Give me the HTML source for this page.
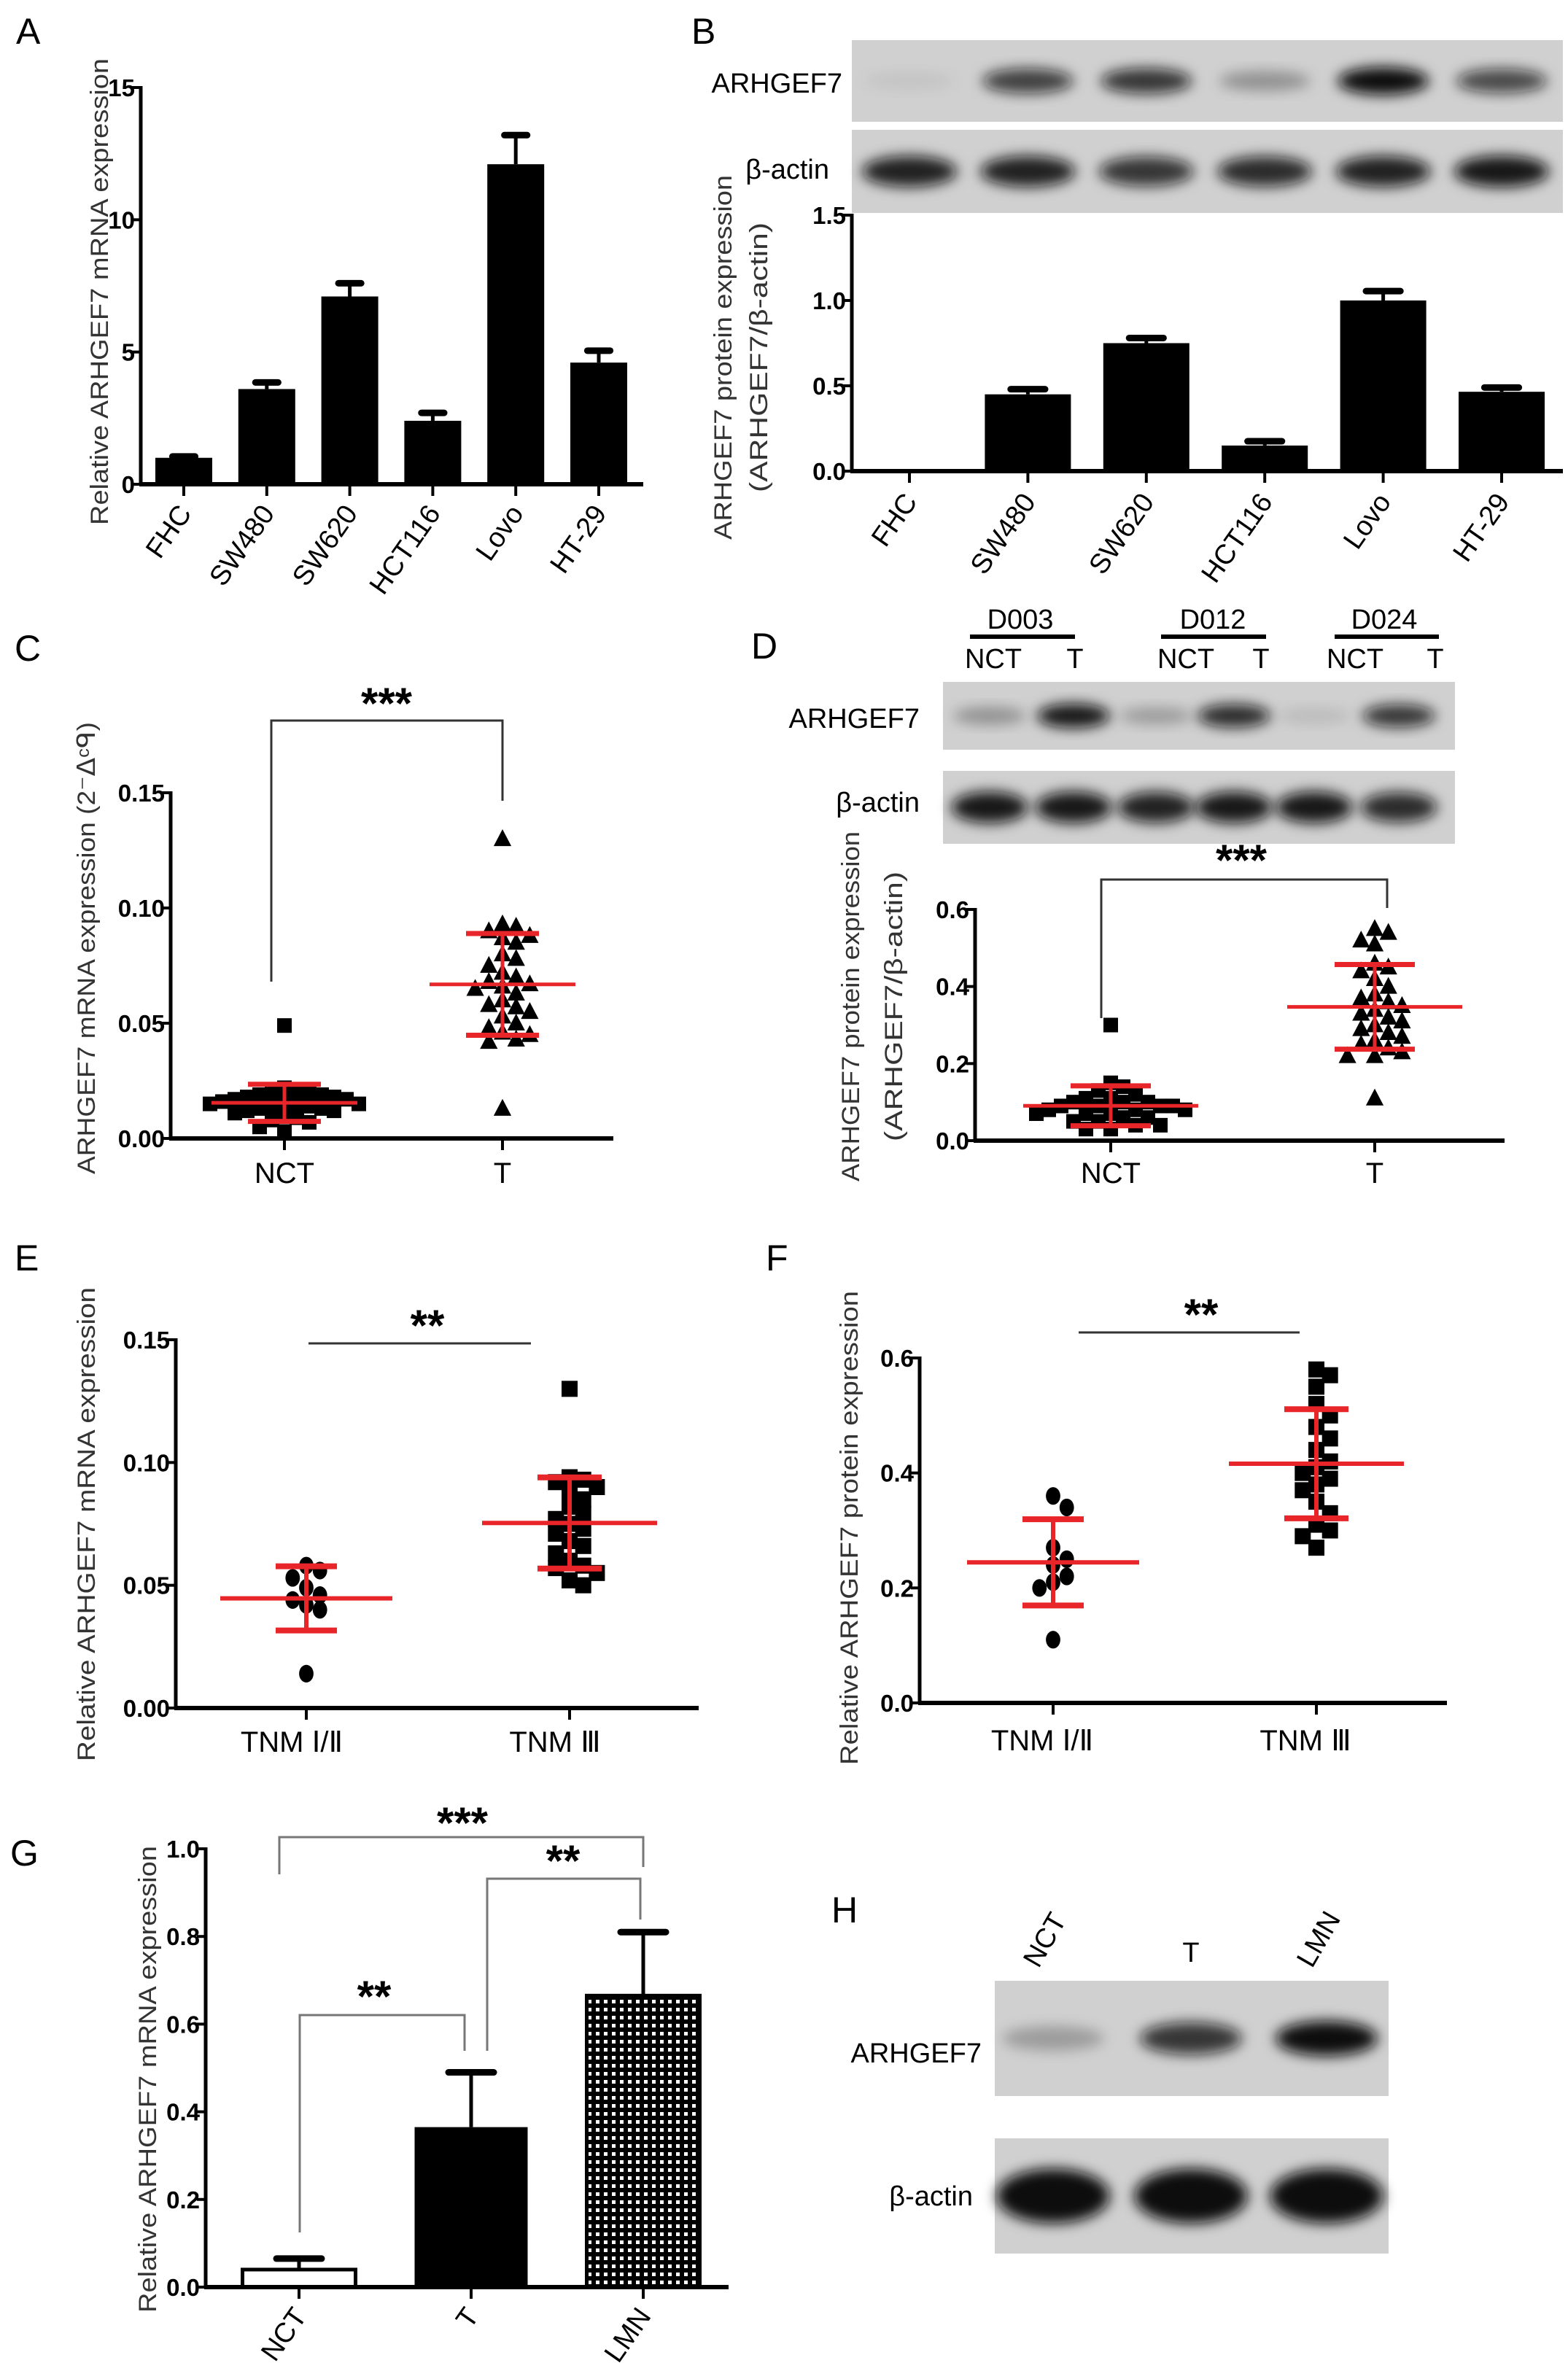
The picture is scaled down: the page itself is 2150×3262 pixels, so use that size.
<!DOCTYPE html>
<html><head><meta charset="utf-8"><style>
html,body{margin:0;padding:0;background:#fff}
svg{display:block}
text{font-family:"Liberation Sans Narrow","Liberation Sans",sans-serif}
.ttl{font-family:"Liberation Sans",sans-serif;fill:#333}
.tick{font-weight:bold;font-size:33px}
.cat{font-size:40px}
.letter{font-family:"Liberation Sans",sans-serif;font-size:50px}
</style></head><body>
<svg id="fig" xmlns="http://www.w3.org/2000/svg" width="2150" height="3262" viewBox="0 0 2150 3262">
<defs>
<filter id="blur" x="-50%" y="-50%" width="200%" height="200%"><feGaussianBlur stdDeviation="9"/></filter>
<pattern id="checker" width="11" height="11" patternUnits="userSpaceOnUse"><rect width="11" height="11" fill="#000"/><rect x="3" y="3" width="5" height="5" fill="#fff"/></pattern>
</defs>
<rect width="2150" height="3262" fill="#fff"/>
</svg>
<script>
// ---------- data ----------
const A_categories = ["FHC","SW480","SW620","HCT116","Lovo","HT-29"];
const A_values = [1.0, 3.6, 7.1, 2.4, 12.1, 4.6];
const A_errors = [0.05, 0.25, 0.5, 0.3, 1.1, 0.45];
const A_ticks = [0, 5, 10, 15];
const A_tickLabels = ["0","5","10","15"];

const B_categories = ["FHC","SW480","SW620","HCT116","Lovo","HT-29"];
const B_values = [0.01, 0.45, 0.75, 0.15, 1.0, 0.465];
const B_errors = [0.0, 0.03, 0.03, 0.025, 0.055, 0.025];
const B_ticks = [0, 0.5, 1.0, 1.5];
const B_tickLabels = ["0.0","0.5","1.0","1.5"];
const B_bandArhgef7 = [0.06, 0.75, 0.8, 0.3, 1.0, 0.7];
const B_bandActin = [0.9, 0.9, 0.8, 0.85, 0.9, 0.95];

const C_categories = ["NCT","T"];
const C_nct = [0.049,0.022,0.021,0.02,0.02,0.019,0.019,0.018,0.018,0.017,0.017,0.016,0.016,0.015,0.015,0.015,0.014,0.014,0.013,0.013,0.012,0.012,0.011,0.01,0.009,0.008,0.007,0.005,0.003];
const C_t = [0.13,0.093,0.092,0.09,0.088,0.087,0.085,0.08,0.078,0.075,0.072,0.07,0.068,0.067,0.066,0.065,0.063,0.06,0.058,0.057,0.055,0.053,0.05,0.048,0.046,0.045,0.043,0.042,0.013];
const C_ticks = [0, 0.05, 0.10, 0.15];
const C_tickLabels = ["0.00","0.05","0.10","0.15"];

const D_categories = ["NCT","T"];
const D_nct = [0.30,0.15,0.14,0.13,0.12,0.11,0.11,0.10,0.10,0.10,0.09,0.09,0.09,0.09,0.08,0.08,0.08,0.07,0.07,0.07,0.06,0.06,0.05,0.05,0.04,0.04,0.03,0.03];
const D_t = [0.55,0.54,0.52,0.51,0.46,0.45,0.44,0.42,0.40,0.38,0.37,0.36,0.35,0.34,0.33,0.32,0.31,0.30,0.29,0.28,0.27,0.26,0.25,0.24,0.23,0.22,0.22,0.11];
const D_ticks = [0, 0.2, 0.4, 0.6];
const D_tickLabels = ["0.0","0.2","0.4","0.6"];
const D_bandArhgef7 = [0.3, 0.95, 0.25, 0.85, 0.1, 0.8];
const D_bandActin = [0.95, 0.95, 0.9, 0.95, 0.95, 0.85];

const E_categories = ["TNM Ⅰ/Ⅱ","TNM Ⅲ"];
const E_early = [0.058,0.056,0.053,0.049,0.046,0.044,0.042,0.040,0.014];
const E_late = [0.13,0.094,0.093,0.092,0.090,0.088,0.085,0.082,0.079,0.077,0.075,0.073,0.071,0.068,0.066,0.063,0.060,0.058,0.057,0.055,0.052,0.050];
const E_ticks = [0, 0.05, 0.10, 0.15];
const E_tickLabels = ["0.00","0.05","0.10","0.15"];

const F_categories = ["TNM Ⅰ/Ⅱ","TNM Ⅲ"];
const F_early = [0.36,0.34,0.27,0.25,0.24,0.22,0.21,0.20,0.11];
const F_late = [0.58,0.57,0.55,0.52,0.50,0.48,0.46,0.44,0.42,0.41,0.40,0.39,0.38,0.37,0.35,0.33,0.31,0.30,0.29,0.27];
const F_ticks = [0, 0.2, 0.4, 0.6];
const F_tickLabels = ["0.0","0.2","0.4","0.6"];

const G_categories = ["NCT","T","LMN"];
const G_values = [0.04, 0.365, 0.665];
const G_errors = [0.025, 0.125, 0.145];
const G_ticks = [0, 0.2, 0.4, 0.6, 0.8, 1.0];
const G_tickLabels = ["0.0","0.2","0.4","0.6","0.8","1.0"];

const H_lanes = ["NCT","T","LMN"];
const H_bandArhgef7 = [0.25, 0.8, 1.0];
const H_bandActin = [1.0, 1.0, 1.0];

// ---------- helpers ----------
const NS = "http://www.w3.org/2000/svg";
const svg = document.getElementById('fig');
function mk(tag, a, p){ const e=document.createElementNS(NS,tag); for(const k in a) e.setAttribute(k,a[k]); (p||svg).appendChild(e); return e; }
function lin(d0,d1,r0,r1){ return v => r0 + (v-d0)/(d1-d0)*(r1-r0); }
function txt(s, a, p){ const e=mk('text', a, p); e.textContent=s; return e; }
function mean(a){ return a.reduce((s,v)=>s+v,0)/a.length; }
function sd(a){ const m=mean(a); return Math.sqrt(a.reduce((s,v)=>s+(v-m)*(v-m),0)/(a.length-1)); }

function yAxis(g, x, y, ticks, labels, xEnd){
  const ax = mk('line',{x1:x,y1:y(ticks[ticks.length-1])-2,x2:x,y2:y(ticks[0])+2,stroke:'#000','stroke-width':5},g);
  
  
  const bx = mk('line',{x1:x-2,y1:y(ticks[0]),x2:xEnd,y2:y(ticks[0]),stroke:'#000','stroke-width':6},g);
  
  
  ticks.forEach((t,i)=>{
    const tk = mk('line',{x1:x-12,y1:y(t),x2:x,y2:y(t),stroke:'#000','stroke-width':4},g);
    
    
    const tl = txt(labels[i],{x:x-8,y:y(t)+12,'text-anchor':'end',class:'tick'},g);
    
    
  });
}
function xTick(g, cx, y0){
  const t = mk('line',{x1:cx,y1:y0,x2:cx,y2:y0+16,stroke:'#000','stroke-width':4},g);
  
  
}
function yTitle(g, lines, cx, cy, len, size){
  lines.forEach((s,i)=>{
    const t = txt(s,{x:0,y:0,transform:`translate(${cx[i]},${cy}) rotate(-90)`,'text-anchor':'middle',class:'ttl','font-size':size,textLength:len[i],lengthAdjust:'spacingAndGlyphs'},g);
    
    
  });
}
function letter(s,x,y){
  const t = txt(s,{x:x,y:y,class:'letter'});
  
  
}
function rotCat(g, s, x, y, ang, size){
  const t = txt(s,{x:0,y:0,transform:`translate(${x},${y}) rotate(${ang})`,'text-anchor':'end','font-size':size||38},g);
  
  
}
function bars(g, cats, vals, errs, xs, y, w, fills){
  cats.forEach((c,i)=>{
    const cx = xs(i);
    const top = y(vals[i]), base = y(0);
    const eTop = y(vals[i]+errs[i]);
    if (errs[i]>0){
      const ev = mk('line',{x1:cx,y1:top,x2:cx,y2:eTop,stroke:'#000','stroke-width':5},g);
      
      
      const ec = mk('line',{x1:cx-w*0.2,y1:eTop,x2:cx+w*0.2,y2:eTop,stroke:'#000','stroke-width':9,'stroke-linecap':'round'},g);
      
      
    }
    const f = fills ? fills[i] : '#000';
    const b = mk('rect',{x:cx-w/2,y:top,width:w,height:Math.max(base-top,3),fill:f,stroke:'#000','stroke-width':f==='#000'?0:5},g);
    
    
  });
}
function swarm(g, vals, cx, y, shape, size, name){
  const placed=[];
  const sorted=[...vals].sort((a,b)=>b-a);
  const step=size*0.85;
  sorted.forEach(v=>{
    const py=y(v);
    let off=0;
    for(let k=0;k<40;k++){
      const cand = k===0?0:(k%2?1:-1)*Math.ceil(k/2)*step;
      if(!placed.some(p=>Math.abs(p.y-py)<size*0.8 && Math.abs(p.x-cand)<step*0.95)){ off=cand; break; }
    }
    placed.push({x:off,y:py});
    const x=cx+off; let e;
    if(shape==='sq') e=mk('rect',{x:x-size/2,y:py-size/2,width:size,height:size,fill:'#000'},g);
    else if(shape==='tri') e=mk('polygon',{points:`${x},${py-size*0.6} ${x-size*0.55},${py+size*0.45} ${x+size*0.55},${py+size*0.45}`,fill:'#000'},g);
    else e=mk('ellipse',{cx:x,cy:py,rx:size*0.45,ry:size*0.55,fill:'#000'},g);
    
    
  });
}
function stats(g, vals, cx, y, half, cap, sw){
  const m=mean(vals), s=sd(vals);
  const col='#e8262a';
  const v = mk('line',{x1:cx,y1:y(m+s),x2:cx,y2:y(m-s),stroke:col,'stroke-width':sw},g);
  
  
  const ml = mk('line',{x1:cx-half,y1:y(m),x2:cx+half,y2:y(m),stroke:col,'stroke-width':sw},g);
  
  
  [m+s,m-s].forEach(val=>{
    const c = mk('line',{x1:cx-cap,y1:y(val),x2:cx+cap,y2:y(val),stroke:col,'stroke-width':sw+2},g);
    
    
  });
}
function bracket(g, x1, x2, yh, yl, yr, label, lx, ly, col){
  const p = mk('polyline',{points:`${x1},${yl} ${x1},${yh} ${x2},${yh} ${x2},${yr}`,fill:'none',stroke:col||'#333','stroke-width':3},g);
  
  
  const t = txt(label,{x:lx,y:ly,'text-anchor':'middle','font-size':60,'font-weight':'bold','font-family':'Liberation Sans'},g);
  
  
}
function blot(g, x, y, w, h, lanesX, intens, bw, bh, name){
  const r = mk('rect',{x:x,y:y,width:w,height:h,fill:'#d0d0d0'},g);
  
  
  intens.forEach((v,i)=>{
    if(v<=0) return;
    const e = mk('ellipse',{cx:lanesX[i],cy:y+h/2,rx:bw/2,ry:bh/2*(0.6+0.4*v),fill:'#111','fill-opacity':Math.min(1,v),filter:'url(#blur)'},g);
    
    
  });
}
function label(g,s,x,y,anchor,size){
  const t = txt(s,{x:x,y:y,'text-anchor':anchor||'end','font-size':size||40},g);
  
  
  return t;
}

// ---------- Panel A ----------
(function(){
  const g = mk('g',{});  
  letter('A',22,60);
  const y = lin(0,15,664,120);
  const xs = i => 252 + i*113.8;
  bars(g, A_categories, A_values, A_errors, xs, y, 78);
  yAxis(g, 193, y, A_ticks, A_tickLabels, 882);
  A_categories.forEach((c,i)=>{ xTick(g,xs(i),664); rotCat(g,c,xs(i)+12,704,-55,38); });
  yTitle(g,['Relative ARHGEF7 mRNA expression'],[148],400,[640],34);
})();

// ---------- Panel B ----------
(function(){
  const g = mk('g',{});  
  letter('B',948,60);
  const xs = i => 1247 + i*162.4;
  const lanes = B_categories.map((c,i)=>xs(i));
  blot(g,1168,55,975,112,lanes,B_bandArhgef7,125,38,'arhgef7-blot');
  blot(g,1168,178,975,114,lanes,B_bandActin,130,44,'actin-blot');
  label(g,'ARHGEF7',1155,127,'end',38);
  label(g,'β-actin',1137,245,'end',38);
  const y = lin(0,1.5,646,295);
  bars(g, B_categories, B_values, B_errors, xs, y, 118);
  yAxis(g, 1168, y, B_ticks, B_tickLabels, 2143);
  B_categories.forEach((c,i)=>{ xTick(g,xs(i),646); rotCat(g,c,xs(i)+12,688,-55,38); });
  yTitle(g,['ARHGEF7 protein expression','(ARHGEF7/β-actin)'],[1003,1052],490,[500,370],34);
})();

// ---------- Panel C ----------
(function(){
  const g = mk('g',{});  
  letter('C',20,906);
  const y = lin(0,0.15,1561,1087);
  const xs = [390,689];
  yAxis(g, 234, y, C_ticks, C_tickLabels, 841);
  xs.forEach((x,i)=>{ xTick(g,x,1561); const t=txt(C_categories[i],{x:x,y:1622,'text-anchor':'middle',class:'cat'},g);   });
  swarm(g, C_nct, xs[0], y, 'sq', 20, 'point-nct');
  swarm(g, C_t, xs[1], y, 'tri', 22, 'point-t');
  stats(g, C_nct, xs[0], y, 100, 50, 5);
  stats(g, C_t, xs[1], y, 100, 50, 5);
  bracket(g,372,689,988,1346,1098,'***',530,985);
  yTitle(g,['ARHGEF7 mRNA expression (2⁻ᐃᶜᑫ)'],[130],1300,[620],34);
})();

// ---------- Panel D ----------
(function(){
  const g = mk('g',{});  
  letter('D',1030,903);
  const groups=[['D003',1399,1330,1474],['D012',1663,1592,1736],['D024',1898,1830,1973]];
  groups.forEach(d=>{
    label(g,d[0],d[1],862,'middle',38);
    const l=mk('line',{x1:d[2],y1:873,x2:d[3],y2:873,stroke:'#000','stroke-width':6},g);
    
    
  });
  [['NCT',1362],['T',1474],['NCT',1626],['T',1729],['NCT',1858],['T',1968]].forEach(d=>label(g,d[0],d[1],916,'middle',38));
  const lanes=[1357,1472,1585,1692,1802,1918];
  blot(g,1293,935,702,93,lanes,D_bandArhgef7,100,34,'arhgef7-blot');
  blot(g,1293,1057,702,100,lanes,D_bandActin,105,44,'actin-blot');
  label(g,'ARHGEF7',1261,998,'end',38);
  label(g,'β-actin',1261,1113,'end',38);
  const y = lin(0,0.6,1564,1247);
  const xs=[1523,1885];
  yAxis(g, 1337, y, D_ticks, D_tickLabels, 2063);
  xs.forEach((x,i)=>{ xTick(g,x,1564); const t=txt(D_categories[i],{x:x,y:1622,'text-anchor':'middle',class:'cat'},g);   });
  swarm(g, D_nct, xs[0], y, 'sq', 20, 'point-nct');
  swarm(g, D_t, xs[1], y, 'tri', 22, 'point-t');
  stats(g, D_nct, xs[0], y, 120, 55, 5);
  stats(g, D_t, xs[1], y, 120, 55, 5);
  bracket(g,1510,1902,1206,1396,1245,'***',1702,1200);
  yTitle(g,['ARHGEF7 protein expression','(ARHGEF7/β-actin)'],[1178,1237],1380,[480,370],34);
})();

// ---------- Panel E ----------
(function(){
  const g = mk('g',{});  
  letter('E',20,1742);
  const y = lin(0,0.15,2342,1837);
  const xs=[420,781];
  yAxis(g, 241, y, E_ticks, E_tickLabels, 958);
  xs.forEach((x,i)=>{ xTick(g,x,2342); const t=txt(E_categories[i],{x:x-20,y:2402,'text-anchor':'middle',class:'cat'},g);   });
  swarm(g, E_early, xs[0], y, 'ci', 22, 'point-tnm-i-ii');
  swarm(g, E_late, xs[1], y, 'sq', 22, 'point-tnm-iii');
  stats(g, E_early, xs[0], y, 118, 42, 6);
  stats(g, E_late, xs[1], y, 120, 44, 6);
  const l=mk('line',{x1:423,y1:1842,x2:728,y2:1842,stroke:'#333','stroke-width':3},g);
  
  
  const s=txt('**',{x:586,y:1838,'text-anchor':'middle','font-size':60,'font-weight':'bold','font-family':'Liberation Sans'},g);
  
  
  yTitle(g,['Relative ARHGEF7 mRNA expression'],[130],2090,[650],34);
})();

// ---------- Panel F ----------
(function(){
  const g = mk('g',{});  
  letter('F',1050,1742);
  const y = lin(0,0.6,2335,1862);
  const xs=[1444,1805];
  yAxis(g, 1261, y, F_ticks, F_tickLabels, 1984);
  xs.forEach((x,i)=>{ xTick(g,x,2335); const t=txt(F_categories[i],{x:x-15,y:2400,'text-anchor':'middle',class:'cat'},g);   });
  swarm(g, F_early, xs[0], y, 'ci', 22, 'point-tnm-i-ii');
  swarm(g, F_late, xs[1], y, 'sq', 22, 'point-tnm-iii');
  stats(g, F_early, xs[0], y, 118, 42, 6);
  stats(g, F_late, xs[1], y, 120, 44, 6);
  const l=mk('line',{x1:1479,y1:1827,x2:1782,y2:1827,stroke:'#333','stroke-width':3},g);
  
  
  const s=txt('**',{x:1647,y:1823,'text-anchor':'middle','font-size':60,'font-weight':'bold','font-family':'Liberation Sans'},g);
  
  
  yTitle(g,['Relative ARHGEF7 protein expression'],[1176],2095,[650],34);
})();

// ---------- Panel G ----------
(function(){
  const g = mk('g',{});  
  letter('G',14,2558);
  const y = lin(0,1.0,3136,2535);
  const xs = i => 410 + i*236;
  bars(g, G_categories, G_values, G_errors, xs, y, 155, ['#fff','#000','url(#checker)']);
  yAxis(g, 282, y, G_ticks, G_tickLabels, 999);
  G_categories.forEach((c,i)=>{ xTick(g,xs(i),3136); rotCat(g,c,xs(i)+12,3176,-55,38); });
  bracket(g,383,882,2519,2570,2560,'***',634,2520,'#777');
  bracket(g,668,878,2576,2812,2632,'**',772,2572,'#777');
  bracket(g,411,637,2763,3061,2812,'**',513,2758,'#777');
  yTitle(g,['Relative ARHGEF7 mRNA expression'],[214],2851,[640],34);
})();

// ---------- Panel H ----------
(function(){
  const g = mk('g',{});  
  letter('H',1140,2636);
  const lanes=[1444,1633,1819];
  H_lanes.forEach((c,i)=>{
    const tr = i===1 ? `translate(${lanes[i]},2690)` : `translate(${lanes[i]-20},2700) rotate(-60)`;
    const t=txt(c,{x:0,y:0,transform:tr,'text-anchor':i===1?'middle':'start','font-size':38},g);
    
    
  });
  blot(g,1364,2716,540,158,lanes,H_bandArhgef7,140,48,'arhgef7-blot');
  blot(g,1364,2932,540,158,lanes,H_bandActin,155,75,'actin-blot');
  label(g,'ARHGEF7',1346,2828,'end',38);
  label(g,'β-actin',1334,3024,'end',38);
})();
</script>
</body></html>
